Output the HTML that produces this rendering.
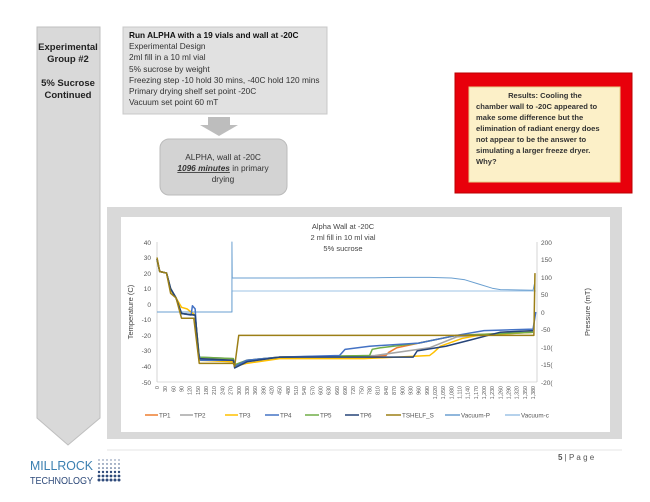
<!DOCTYPE html>
<html><head><meta charset="utf-8"><style>
body{margin:0;background:#fff;}
svg{display:block;font-family:"Liberation Sans",sans-serif;}
</style></head><body>
<svg width="650" height="502" viewBox="0 0 650 502" xmlns="http://www.w3.org/2000/svg">
<rect width="650" height="502" fill="#fff"/>
<polygon points="37,27 100,27 100,418 68,445 37,418" fill="#d9d9d9" stroke="#bfbfbf" stroke-width="1"/>
<g font-weight="bold" font-size="9.5" fill="#222" text-anchor="middle">
<text x="68" y="50">Experimental</text><text x="68" y="62">Group #2</text>
<text x="68" y="86">5% Sucrose</text><text x="68" y="98">Continued</text></g>
<rect x="123" y="27" width="204" height="87" fill="#e1e1e1" stroke="#c8c8c8"/>
<g font-size="8.3" fill="#333"><text x="129" y="38" font-weight="bold" fill="#111">Run ALPHA with a 19 vials and wall at -20C</text>
<text x="129" y="49">Experimental Design</text><text x="129" y="60">2ml fill in a 10 ml vial</text>
<text x="129" y="72">5% sucrose by weight</text><text x="129" y="83">Freezing step -10 hold 30 mins, -40C hold 120 mins</text>
<text x="129" y="94">Primary drying shelf set point -20C</text><text x="129" y="105">Vacuum set point 60 mT</text></g>
<polygon points="208,117 230,117 230,125 238,125 219,136 200,125 208,125" fill="#bdbdbd"/>
<rect x="160" y="139" width="127" height="56" rx="9" fill="#d3d3d3" stroke="#bbb"/>
<g font-size="8.3" fill="#333" text-anchor="middle"><text x="223" y="160">ALPHA, wall at -20C</text>
<text x="223" y="171"><tspan font-weight="bold" font-style="italic" text-decoration="underline">1096 minutes</tspan> in primary</text>
<text x="223" y="182">drying</text></g>
<rect x="455" y="73" width="177" height="120" fill="#e8000b" stroke="#b00" />
<rect x="469" y="87" width="151" height="95" fill="#fcf0c8" stroke="#e6d08a"/>
<g font-size="7.6" font-weight="bold" fill="#333"><text x="545" y="98" text-anchor="middle">Results:  Cooling the</text>
<text x="476" y="109">chamber wall to -20C appeared to</text><text x="476" y="120">make some difference but the</text>
<text x="476" y="131">elimination of radiant energy does</text><text x="476" y="142">not appear to be the answer to</text>
<text x="476" y="153">simulating a larger freeze dryer.</text><text x="476" y="164">Why?</text></g>
<rect x="107" y="207" width="515" height="232" fill="#d9d9d9"/>
<rect x="121" y="217" width="489" height="215" fill="#fff"/>
<g font-size="7.5" fill="#444" text-anchor="middle"><text x="343" y="229">Alpha Wall at -20C</text>
<text x="343" y="240">2 ml fill in 10 ml vial</text><text x="343" y="251">5% sucrose</text></g>
<line x1="157" y1="242" x2="157" y2="382" stroke="#bbb" stroke-width="0.6"/>
<line x1="537" y1="242" x2="537" y2="382" stroke="#bbb" stroke-width="0.6"/>
<line x1="157" y1="382" x2="537" y2="382" stroke="#bbb" stroke-width="0.6"/>
<g font-size="6.5" fill="#555" text-anchor="end">
<text x="151" y="245">40</text><text x="151" y="260">30</text><text x="151" y="276">20</text><text x="151" y="291">10</text><text x="151" y="307">0</text><text x="151" y="322">-10</text><text x="151" y="338">-20</text><text x="151" y="353">-30</text><text x="151" y="369">-40</text><text x="151" y="385">-50</text></g>
<g font-size="6.5" fill="#555">
<text x="541" y="245">200</text><text x="541" y="262">150</text><text x="541" y="280">100</text><text x="541" y="297">50</text><text x="541" y="315">0</text><text x="541" y="332">-50</text><text x="541" y="350">-10(</text><text x="541" y="367">-15(</text><text x="541" y="385">-20(</text></g>
<text transform="translate(133,312) rotate(-90)" font-size="7.5" fill="#444" text-anchor="middle">Temperature (C)</text>
<text transform="translate(590,312) rotate(-90)" font-size="7.5" fill="#444" text-anchor="middle">Pressure (mT)</text>
<g font-size="5.3" fill="#555" text-anchor="end">
<text transform="translate(159,386) rotate(-90)">0</text><text transform="translate(167.2,386) rotate(-90)">30</text><text transform="translate(175.4,386) rotate(-90)">60</text><text transform="translate(183.5,386) rotate(-90)">90</text><text transform="translate(191.7,386) rotate(-90)">120</text><text transform="translate(199.9,386) rotate(-90)">150</text><text transform="translate(208.1,386) rotate(-90)">180</text><text transform="translate(216.2,386) rotate(-90)">210</text><text transform="translate(224.4,386) rotate(-90)">240</text><text transform="translate(232.6,386) rotate(-90)">270</text><text transform="translate(240.8,386) rotate(-90)">300</text><text transform="translate(248.9,386) rotate(-90)">330</text><text transform="translate(257.1,386) rotate(-90)">360</text><text transform="translate(265.3,386) rotate(-90)">390</text><text transform="translate(273.5,386) rotate(-90)">420</text><text transform="translate(281.6,386) rotate(-90)">450</text><text transform="translate(289.8,386) rotate(-90)">480</text><text transform="translate(298,386) rotate(-90)">510</text><text transform="translate(306.2,386) rotate(-90)">540</text><text transform="translate(314.3,386) rotate(-90)">570</text><text transform="translate(322.5,386) rotate(-90)">600</text><text transform="translate(330.7,386) rotate(-90)">630</text><text transform="translate(338.9,386) rotate(-90)">660</text><text transform="translate(347,386) rotate(-90)">690</text><text transform="translate(355.2,386) rotate(-90)">720</text><text transform="translate(363.4,386) rotate(-90)">750</text><text transform="translate(371.6,386) rotate(-90)">780</text><text transform="translate(379.7,386) rotate(-90)">810</text><text transform="translate(387.9,386) rotate(-90)">840</text><text transform="translate(396.1,386) rotate(-90)">870</text><text transform="translate(404.3,386) rotate(-90)">900</text><text transform="translate(412.4,386) rotate(-90)">930</text><text transform="translate(420.6,386) rotate(-90)">960</text><text transform="translate(428.8,386) rotate(-90)">990</text><text transform="translate(437,386) rotate(-90)">1,020</text><text transform="translate(445.1,386) rotate(-90)">1,050</text><text transform="translate(453.3,386) rotate(-90)">1,080</text><text transform="translate(461.5,386) rotate(-90)">1,110</text><text transform="translate(469.7,386) rotate(-90)">1,140</text><text transform="translate(477.8,386) rotate(-90)">1,170</text><text transform="translate(486,386) rotate(-90)">1,200</text><text transform="translate(494.2,386) rotate(-90)">1,230</text><text transform="translate(502.4,386) rotate(-90)">1,260</text><text transform="translate(510.5,386) rotate(-90)">1,290</text><text transform="translate(518.7,386) rotate(-90)">1,320</text><text transform="translate(526.9,386) rotate(-90)">1,350</text><text transform="translate(535.1,386) rotate(-90)">1,380</text></g>
<g transform="translate(157,312) scale(0.2725,-0.35)" fill="none" stroke-linejoin="round">
<polyline vector-effect="non-scaling-stroke" stroke="#9dc3e6" stroke-width="1" points="0,0 275,0 275,60 1390,60"/>
<polyline vector-effect="non-scaling-stroke" stroke="#6a9fd0" stroke-width="1" points="0,0 275,0 275,200 276,97 500,97 800,98 900,99 1000,99 1080,97 1130,92 1180,80 1230,68 1260,64 1380,62 1385,80"/>
</g>
<g transform="translate(157,304.2) scale(0.2725,-1.556)" fill="none" stroke-linejoin="round">
<polyline vector-effect="non-scaling-stroke" stroke="#ed7d31" stroke-width="1.5" points="0,29 10,21 35,20 50,10 70,4 90,-6 140,-7 155,-35 280,-36 285,-40 330,-36 450,-34 840,-33 850,-31 870,-29 880,-28 960,-25 1100,-20 1380,-18"/>
<polyline vector-effect="non-scaling-stroke" stroke="#a5a5a5" stroke-width="1.5" points="0,29 10,21 35,20 50,10 70,4 90,-6 140,-7 155,-34 280,-35 285,-39 330,-36 450,-34 800,-33 1000,-28 1100,-21 1380,-18"/>
<polyline vector-effect="non-scaling-stroke" stroke="#ffc000" stroke-width="1.5" points="0,28 10,21 35,20 50,9 70,4 90,-2 110,-3 140,-7 155,-36 280,-37 285,-40 330,-38 450,-35 760,-35 1000,-33 1015,-31 1040,-27 1120,-22 1180,-20 1380,-18"/>
<polyline vector-effect="non-scaling-stroke" stroke="#70ad47" stroke-width="1.5" points="0,29 10,21 35,20 50,10 70,4 90,-6 140,-7 155,-34 280,-35 285,-39 330,-36 450,-34 780,-33 790,-29 820,-28 960,-25 1100,-20 1380,-18"/>
<polyline vector-effect="non-scaling-stroke" stroke="#4472c4" stroke-width="1.5" points="0,29 10,21 35,20 50,10 70,4 90,-6 125,-7 130,-1 140,-3 150,-30 160,-36 280,-36 285,-40 330,-36 450,-34 670,-33 690,-29 780,-27 960,-25 1100,-20 1200,-17 1380,-16 1390,-5"/>
<polyline vector-effect="non-scaling-stroke" stroke="#264478" stroke-width="1.5" points="0,29 10,21 35,20 50,10 70,4 90,-6 140,-7 155,-35 280,-36 285,-41 330,-37 450,-34 940,-34 955,-30 1060,-27 1150,-23 1260,-18 1380,-17"/>
<polyline vector-effect="non-scaling-stroke" stroke="#9c7f16" stroke-width="1.5" points="0,30 10,21 35,20 50,7 70,4 90,-9 135,-9 155,-38 280,-38 285,-40 300,-20 1383,-20 1387,20"/>
</g>
<g font-size="6.3" fill="#555" stroke-width="1.5">
<line x1="145" y1="415" x2="158" y2="415" stroke="#ed7d31"/><text x="159" y="417.5">TP1</text>
<line x1="180" y1="415" x2="193" y2="415" stroke="#a5a5a5"/><text x="194" y="417.5">TP2</text>
<line x1="225" y1="415" x2="238" y2="415" stroke="#ffc000"/><text x="239" y="417.5">TP3</text>
<line x1="265" y1="415" x2="279" y2="415" stroke="#4472c4"/><text x="280" y="417.5">TP4</text>
<line x1="305" y1="415" x2="319" y2="415" stroke="#70ad47"/><text x="320" y="417.5">TP5</text>
<line x1="345" y1="415" x2="359" y2="415" stroke="#264478"/><text x="360" y="417.5">TP6</text>
<line x1="386" y1="415" x2="401" y2="415" stroke="#9c7f16"/><text x="402" y="417.5">TSHELF_S</text>
<line x1="445" y1="415" x2="460" y2="415" stroke="#6a9fd0"/><text x="461" y="417.5">Vacuum-P</text>
<line x1="505" y1="415" x2="520" y2="415" stroke="#9dc3e6"/><text x="521" y="417.5">Vacuum-c</text>
</g>
<line x1="107" y1="450" x2="622" y2="450" stroke="#e6e6e6" stroke-width="1"/>
<text x="558" y="460" font-size="8" fill="#555"><tspan font-weight="bold">5</tspan> | P a g e</text>
<text x="30" y="470" font-size="13" fill="#3a7fb0" textLength="63" lengthAdjust="spacingAndGlyphs">MILLROCK</text>
<text x="30" y="484" font-size="10" fill="#2e4a7a" textLength="63" lengthAdjust="spacingAndGlyphs">TECHNOLOGY</text>
<g fill="#2e4a7a">
<circle cx="99" cy="460" r="0.6"/><circle cx="103" cy="460" r="0.6"/><circle cx="107" cy="460" r="0.6"/><circle cx="111" cy="460" r="0.6"/><circle cx="115" cy="460" r="0.6"/><circle cx="119" cy="460" r="0.6"/>
<circle cx="99" cy="464" r="0.7"/><circle cx="103" cy="464" r="0.7"/><circle cx="107" cy="464" r="0.7"/><circle cx="111" cy="464" r="0.7"/><circle cx="115" cy="464" r="0.7"/><circle cx="119" cy="464" r="0.7"/>
<circle cx="99" cy="468" r="0.8"/><circle cx="103" cy="468" r="0.8"/><circle cx="107" cy="468" r="0.8"/><circle cx="111" cy="468" r="0.8"/><circle cx="115" cy="468" r="0.8"/><circle cx="119" cy="468" r="0.8"/>
<circle cx="99" cy="472" r="1.2"/><circle cx="103" cy="472" r="1.2"/><circle cx="107" cy="472" r="1.2"/><circle cx="111" cy="472" r="1.2"/><circle cx="115" cy="472" r="1.2"/><circle cx="119" cy="472" r="1.2"/>
<circle cx="99" cy="476" r="1.4"/><circle cx="103" cy="476" r="1.4"/><circle cx="107" cy="476" r="1.4"/><circle cx="111" cy="476" r="1.4"/><circle cx="115" cy="476" r="1.4"/><circle cx="119" cy="476" r="1.4"/>
<circle cx="99" cy="480" r="1.5"/><circle cx="103" cy="480" r="1.5"/><circle cx="107" cy="480" r="1.5"/><circle cx="111" cy="480" r="1.5"/><circle cx="115" cy="480" r="1.5"/><circle cx="119" cy="480" r="1.5"/>
</g>
</svg>
</body></html>
